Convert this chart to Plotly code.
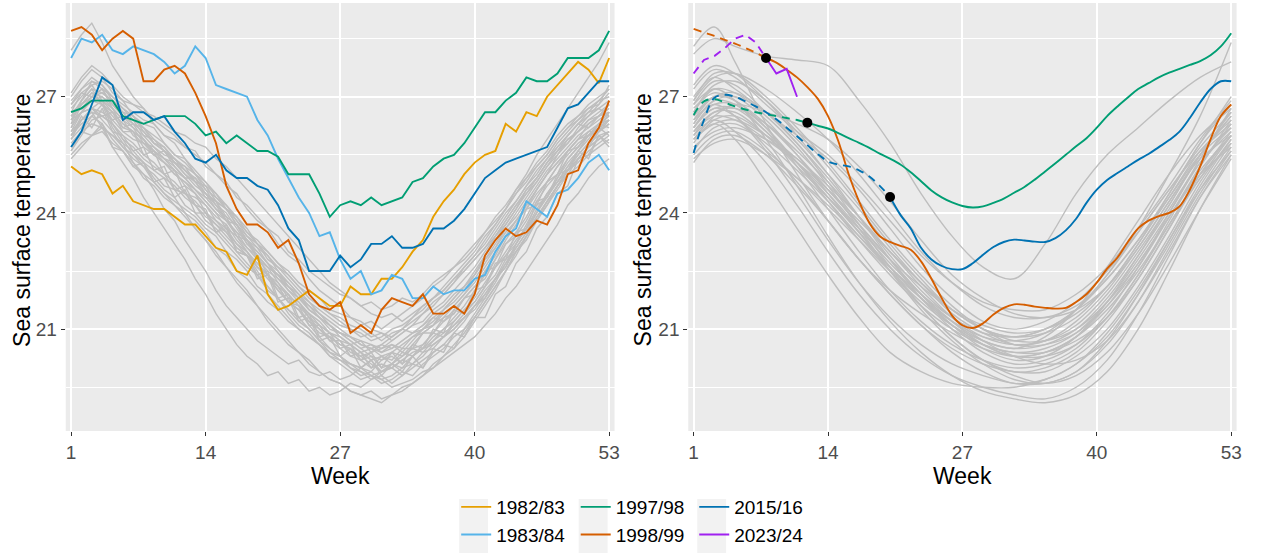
import plotly.graph_objects as go

# ---------------- data ----------------
weeks = list(range(1, 54))
weeks_s = [1, 3, 5, 8, 11, 14, 17, 20, 23, 26, 29, 32, 35, 38, 41, 44, 47, 50, 53]
x_ticks = [1, 14, 27, 40, 53]
y_ticks = [21, 24, 27]
y_minor = [19.5, 22.5, 25.5, 28.5]

# highlighted seasons, weekly values (left panel)
s1982 = [25.2,25.0,25.1,25.0,24.5,24.7,24.3,24.2,24.1,24.1,23.9,23.7,23.7,23.4,23.1,23.0,22.5,22.4,22.9,21.9,
         21.5,21.6,21.8,22.0,21.8,21.6,21.6,22.1,21.9,21.9,22.3,22.3,22.6,23.0,23.3,23.9,24.3,24.6,25.0,25.3,
         25.5,25.6,26.3,26.1,26.6,26.5,27.0,27.3,27.6,27.9,27.7,27.35,28.0]
s1983 = [28.0,28.5,28.4,28.6,28.2,28.1,28.3,28.2,28.1,27.9,27.6,27.8,28.3,28.0,27.3,27.2,27.1,27.0,26.4,26.0,
         25.4,24.9,24.4,24.0,23.4,23.5,22.8,22.3,22.5,21.9,22.0,22.4,22.3,21.8,21.8,22.1,21.9,22.0,22.0,22.3,
         22.4,23.0,23.4,23.6,24.3,24.1,23.9,24.5,24.6,24.9,25.3,25.5,25.1]
s1997 = [26.6,26.7,26.9,26.9,26.9,26.5,26.4,26.3,26.4,26.5,26.5,26.5,26.3,26.0,26.1,25.8,26.0,25.8,25.6,25.6,
         25.45,25.0,25.0,25.0,24.5,23.9,24.2,24.3,24.2,24.4,24.2,24.3,24.4,24.8,24.9,25.2,25.4,25.5,25.8,26.2,
         26.6,26.6,26.9,27.1,27.5,27.4,27.4,27.6,28.0,28.0,28.0,28.2,28.7]
s1998 = [28.7,28.8,28.6,28.2,28.5,28.7,28.5,27.4,27.4,27.7,27.8,27.6,27.1,26.5,25.8,24.7,24.1,23.7,23.7,23.5,
         23.1,23.3,22.7,21.9,21.6,21.5,21.7,20.9,21.1,20.9,21.5,21.8,21.7,21.6,21.9,21.4,21.4,21.6,21.4,21.9,
         22.9,23.3,23.6,23.4,23.5,23.8,23.7,24.2,25.0,25.1,25.8,26.2,26.9]
s2015 = [25.7,26.1,26.8,27.5,27.3,26.4,26.6,26.6,26.4,26.5,26.1,25.8,25.4,25.3,25.5,25.1,24.9,24.9,24.7,24.6,
         24.2,23.6,23.3,22.5,22.5,22.5,22.9,22.6,22.8,23.2,23.2,23.4,23.1,23.1,23.2,23.6,23.6,23.8,24.1,24.5,
         24.9,25.1,25.3,25.4,25.5,25.6,25.7,26.2,26.7,26.8,27.1,27.4,27.4]

# other seasons, weekly values (left panel, grey)
g01 = [26.8,27.2,27.5,27.3,26.9,26.6,26.5,26.1,25.8,25.7,25.3,25.2,24.8,24.4,24.3,23.8,23.5,23.1,22.9,22.4,22.1,21.7,21.5,21.1,20.8,20.5,20.3,20.0,19.9,19.7,19.8,19.6,19.8,20.1,20.0,20.4,20.6,20.5,21.0,21.4,21.8,22.3,22.6,23.2,23.6,24.0,24.5,24.9,25.4,25.7,26.0,26.3,26.5]
g02 = [25.6,26.1,26.0,26.3,25.7,25.6,25.2,25.3,24.8,24.9,24.4,24.6,24.0,24.0,23.5,23.6,23.0,22.9,22.4,22.5,21.8,21.9,21.3,21.4,20.8,20.9,20.5,20.6,20.2,20.4,20.0,20.4,20.1,20.6,20.5,21.0,20.9,21.5,21.4,22.0,22.1,22.7,22.8,23.5,23.6,24.3,24.4,25.0,25.1,25.6,25.4,26.0,25.8]
g03 = [26.2,26.8,27.1,27.0,26.7,26.2,26.3,25.9,25.5,25.6,25.2,24.9,24.9,24.5,24.1,23.9,23.4,23.3,22.8,22.6,22.2,21.8,21.7,21.3,21.0,20.8,20.6,20.5,20.2,20.3,20.0,20.1,20.4,20.3,20.6,20.9,20.8,21.2,21.5,21.7,22.1,22.6,22.9,23.2,23.7,24.2,24.4,24.9,25.3,25.6,26.0,26.1,26.4]
g04 = [26.5,26.7,27.0,27.2,27.0,26.8,26.6,26.4,26.3,26.0,25.9,25.7,25.5,25.3,25.0,24.7,24.5,24.1,23.8,23.6,23.2,22.9,22.7,22.3,22.0,21.8,21.6,21.3,21.2,21.0,20.9,20.8,21.0,20.9,21.1,21.3,21.2,21.5,21.8,22.1,22.3,22.8,23.2,23.5,23.9,24.4,24.8,25.2,25.6,25.9,26.3,26.5,26.8]
g05 = [25.8,26.1,26.5,26.3,25.9,25.6,25.3,24.9,24.7,24.4,24.2,23.9,23.6,23.3,23.0,22.6,22.3,22.0,21.6,21.3,21.0,20.7,20.4,20.2,19.9,19.7,19.6,19.4,19.3,19.4,19.2,19.3,19.5,19.6,19.8,20.0,20.3,20.5,20.8,21.2,21.6,22.0,22.5,22.9,23.4,23.8,24.2,24.7,25.1,25.3,25.6,25.8,26.0]
g06 = [27.0,27.4,27.7,27.5,27.1,26.9,26.5,26.3,26.2,25.8,25.5,25.4,25.0,24.6,24.4,24.2,23.8,23.4,23.1,22.9,22.5,22.1,21.9,21.5,21.3,21.1,20.8,20.6,20.7,20.4,20.5,20.6,20.4,20.7,21.0,21.1,21.4,21.6,21.9,22.3,22.7,23.1,23.5,23.8,24.2,24.6,25.0,25.5,25.8,26.2,26.5,26.8,27.1]
g07 = [26.0,26.5,26.2,26.7,26.1,26.0,25.6,25.7,25.1,25.2,24.6,24.7,24.2,24.1,23.5,23.7,23.0,22.9,22.3,22.4,21.7,21.8,21.2,21.3,20.7,20.8,20.3,20.5,20.0,20.2,19.8,20.1,19.9,20.3,20.0,20.5,20.4,20.9,20.8,21.3,21.3,21.9,22.1,22.7,23.0,23.6,23.9,24.5,24.7,25.4,25.5,26.0,26.1]
g08 = [26.4,26.6,26.9,26.8,26.4,26.5,26.2,25.8,25.7,25.4,25.3,25.0,24.7,24.5,24.2,23.8,23.7,23.2,23.0,22.7,22.3,22.1,21.8,21.5,21.3,21.0,20.9,20.7,20.5,20.6,20.4,20.5,20.7,20.9,21.0,21.3,21.5,21.8,22.1,22.5,22.9,23.4,23.7,24.1,24.6,24.9,25.3,25.6,26.0,26.3,26.2,26.5,26.7]
g09 = [26.1,26.4,26.7,26.9,26.7,26.4,26.2,26.0,25.7,25.5,25.4,25.1,24.8,24.7,24.3,24.1,23.8,23.5,23.3,23.0,22.7,22.5,22.2,22.0,21.8,21.5,21.4,21.3,21.1,21.2,21.0,21.2,21.4,21.6,21.8,22.1,22.3,22.6,22.9,23.2,23.5,23.9,24.2,24.6,24.9,25.3,25.6,26.0,26.3,26.5,26.8,27.0,27.2]
g10 = [26.6,27.1,27.3,26.9,26.3,25.9,25.5,25.3,24.9,24.6,24.4,24.0,23.8,23.5,23.1,22.9,22.5,22.3,22.0,21.7,21.5,21.2,21.0,20.8,20.6,20.3,20.2,20.0,19.8,19.9,19.7,19.8,20.0,20.1,20.3,20.6,20.8,21.1,21.4,21.7,22.1,22.4,22.9,23.3,23.6,24.0,24.5,24.8,25.1,25.4,25.7,25.9,26.1]
g11 = [25.9,26.2,26.7,26.6,26.4,26.1,25.9,25.8,25.5,25.3,25.0,24.8,24.6,24.3,24.0,23.6,23.4,23.0,22.7,22.4,22.2,21.9,21.6,21.3,21.1,20.9,20.7,20.4,20.3,20.1,19.9,20.0,19.8,20.0,20.2,20.4,20.6,20.9,21.2,21.6,22.0,22.3,22.7,23.2,23.6,24.1,24.5,24.8,25.2,25.5,25.8,26.0,25.7]
g12 = [26.3,26.9,27.4,27.2,26.8,26.5,26.4,26.0,25.9,25.6,25.3,25.1,24.9,24.6,24.2,24.0,23.6,23.2,22.9,22.6,22.4,22.0,21.7,21.4,21.2,20.9,20.7,20.6,20.4,20.2,20.3,20.1,20.3,20.5,20.4,20.7,20.9,21.1,21.3,21.6,21.8,22.2,22.7,23.0,23.4,23.9,24.3,24.7,25.1,25.5,25.8,26.1,26.3]
g13 = [26.7,27.0,27.3,27.4,27.2,26.9,26.8,26.7,26.4,26.2,26.0,25.7,25.6,25.2,25.0,24.8,24.4,24.2,23.9,23.6,23.4,23.0,22.8,22.5,22.3,22.1,21.9,21.8,21.6,21.7,21.5,21.6,21.8,21.7,21.9,22.2,22.4,22.6,22.8,23.1,23.5,23.8,24.1,24.5,24.9,25.2,25.5,25.9,26.2,26.5,26.7,26.9,27.0]
g14 = [25.5,25.8,26.0,26.1,25.8,25.6,25.2,25.0,24.8,24.5,24.3,24.1,23.9,23.6,23.4,23.0,22.8,22.5,22.1,21.9,21.6,21.3,21.0,20.8,20.6,20.3,20.1,19.9,19.7,19.8,19.6,19.7,19.9,19.8,20.1,20.3,20.5,20.8,21.0,21.3,21.7,22.1,22.5,23.0,23.3,23.8,24.2,24.6,25.0,25.2,25.5,25.7,25.9]
g15 = [26.8,27.1,27.0,27.2,26.7,26.4,26.0,25.8,25.6,25.3,25.1,24.7,24.5,24.0,23.7,23.5,23.1,22.9,22.5,22.1,21.8,21.5,21.3,21.0,20.7,20.4,20.2,20.1,19.9,19.8,19.9,20.0,20.2,20.1,20.4,20.5,20.8,21.0,21.3,21.5,21.9,22.3,22.8,23.1,23.5,24.0,24.4,24.8,25.2,25.6,25.9,26.3,26.6]
g16 = [26.1,26.6,26.7,26.5,26.6,26.1,26.1,25.5,25.6,25.0,25.1,24.5,24.4,24.2,23.8,23.6,23.2,23.0,22.6,22.4,22.1,21.7,21.6,21.1,21.1,20.7,20.7,20.3,20.4,20.0,20.3,20.2,20.5,20.5,20.9,20.9,21.3,21.4,21.8,21.9,22.5,22.6,23.2,23.4,24.1,24.2,24.8,25.0,25.6,25.7,26.1,26.1,26.6]
g17 = [28.2,28.6,28.9,28.4,27.8,27.4,27.0,26.7,26.3,26.0,25.8,25.4,25.1,24.8,24.4,24.1,23.7,23.3,23.0,22.7,22.4,22.2,21.9,21.6,21.4,21.1,20.9,20.8,20.6,20.5,20.4,20.6,20.5,20.8,21.0,21.2,21.5,21.7,22.0,22.4,22.8,23.1,23.6,23.9,24.3,24.7,25.1,25.4,25.7,26.0,26.2,26.4,26.6]
g18 = [26.4,26.8,27.0,26.9,26.6,26.3,26.1,25.9,25.6,25.4,25.1,24.9,24.6,24.3,24.0,23.8,23.4,23.1,22.8,22.5,22.3,22.0,21.8,21.5,21.3,21.1,20.9,20.8,20.7,20.6,20.5,20.7,20.9,21.1,21.4,21.6,21.9,22.2,22.6,22.9,23.3,23.7,24.1,24.6,25.0,25.5,25.9,26.3,26.7,27.1,27.5,27.9,28.4]
g19 = [25.7,26.1,26.3,26.2,26.0,25.7,25.5,25.2,25.0,24.7,24.6,24.2,24.0,23.7,23.5,23.2,22.9,22.6,22.4,22.1,21.8,21.5,21.2,21.0,20.7,20.5,20.3,20.1,20.0,19.8,19.7,19.5,19.6,19.7,19.9,20.0,20.2,20.4,20.6,20.8,21.1,21.4,21.8,22.1,22.5,22.9,23.3,23.7,24.2,24.5,24.9,25.2,25.4]
g20 = [26.5,26.9,27.2,27.1,26.9,26.6,26.3,26.2,25.8,25.6,25.4,25.1,24.8,24.7,24.3,24.1,23.7,23.4,23.2,22.8,22.6,22.3,22.0,21.7,21.5,21.3,21.1,21.0,20.8,20.9,20.7,20.9,21.0,21.2,21.4,21.7,21.9,22.2,22.5,22.8,23.1,23.5,23.9,24.3,24.7,25.0,25.4,25.7,26.0,26.3,26.5,26.7,26.9]
g21 = [25.9,26.4,26.6,26.5,26.3,25.9,25.7,25.4,25.2,25.0,24.6,24.5,24.2,23.8,23.6,23.3,23.0,22.7,22.4,22.0,21.8,21.4,21.1,20.9,20.6,20.4,20.3,20.1,20.0,20.2,19.9,20.1,20.3,20.5,20.6,20.9,21.2,21.4,21.8,22.1,22.5,22.9,23.4,23.8,24.1,24.6,25.0,25.3,25.6,25.9,26.1,26.3,26.2]
g22 = [26.2,26.6,27.0,27.1,26.9,26.7,26.5,26.2,26.0,25.8,25.5,25.3,25.0,24.8,24.5,24.2,23.9,23.6,23.2,23.0,22.7,22.4,22.1,21.8,21.6,21.4,21.2,21.0,20.9,20.7,20.8,21.0,21.1,21.3,21.6,21.8,22.0,22.3,22.6,22.9,23.2,23.6,24.0,24.3,24.7,25.1,25.4,25.8,26.1,26.4,26.7,26.8,27.3]
g23 = [26.6,26.8,27.1,26.8,26.5,26.2,26.1,25.7,25.5,25.3,25.0,24.8,24.5,24.2,23.9,23.7,23.3,23.0,22.6,22.4,22.0,21.7,21.5,21.2,21.0,20.7,20.5,20.3,20.2,20.0,20.1,20.0,20.2,20.4,20.5,20.7,21.0,21.2,21.5,21.8,22.2,22.6,23.0,23.4,23.8,24.3,24.7,25.0,25.4,25.7,26.0,26.2,26.0]
g24 = [25.4,25.7,26.0,26.2,26.0,25.8,25.6,25.3,25.1,24.9,24.7,24.4,24.2,23.9,23.7,23.4,23.1,22.9,22.6,22.3,22.0,21.7,21.5,21.2,20.9,20.8,20.6,20.5,20.3,20.4,20.6,20.8,21.0,21.3,21.5,21.8,22.1,22.4,22.7,23.0,23.4,23.7,24.1,24.5,24.8,25.2,25.5,25.9,26.2,26.4,26.6,26.7,26.5]
g25 = [26.0,26.3,26.5,26.8,26.6,26.3,26.1,25.9,25.6,25.4,25.2,24.9,24.6,24.4,24.1,23.8,23.5,23.3,22.9,22.6,22.4,22.1,21.8,21.6,21.3,21.1,20.9,20.7,20.5,20.3,20.2,20.3,20.1,20.3,20.5,20.6,20.8,21.0,21.3,21.6,21.9,22.3,22.6,23.1,23.5,23.9,24.3,24.7,25.1,25.4,25.7,26.1,26.3]
g26 = [27.1,27.5,27.8,27.6,27.3,27.0,26.8,26.6,26.5,26.3,26.1,26.0,25.8,25.7,25.4,25.2,24.9,24.6,24.3,24.0,23.7,23.4,23.1,22.8,22.5,22.2,22.0,21.8,21.6,21.4,21.3,21.4,21.2,21.4,21.6,21.8,22.0,22.3,22.5,22.8,23.1,23.4,23.8,24.2,24.6,24.9,25.3,25.6,25.9,26.1,26.4,26.5,26.6]
g27 = [26.3,26.6,26.7,26.4,26.1,25.7,25.4,25.2,24.8,24.5,24.2,24.0,23.6,23.3,22.9,22.6,22.2,21.9,21.6,21.2,20.9,20.6,20.4,20.1,19.9,19.7,19.6,19.4,19.3,19.2,19.1,19.3,19.4,19.6,19.8,20.1,20.3,20.6,20.9,21.3,21.7,22.1,22.5,23.0,23.4,23.8,24.3,24.7,25.0,25.4,25.7,25.9,26.1]
g28 = [26.9,27.2,27.4,27.3,27.0,26.7,26.4,26.2,25.9,25.7,25.4,25.2,25.0,24.7,24.5,24.1,23.9,23.5,23.2,22.9,22.6,22.4,22.1,21.9,21.6,21.4,21.3,21.1,21.0,20.8,20.9,20.7,20.9,21.1,21.2,21.5,21.7,22.0,22.3,22.6,23.0,23.4,23.8,24.2,24.5,24.9,25.3,25.7,26.0,26.3,26.6,26.9,27.2]
g29 = [25.6,26.0,26.4,26.5,26.3,26.0,25.8,25.5,25.3,25.0,24.8,24.5,24.3,24.0,23.8,23.5,23.2,22.9,22.7,22.4,22.1,21.9,21.6,21.4,21.1,20.9,20.8,20.6,20.4,20.5,20.3,20.4,20.6,20.8,20.9,21.1,21.3,21.6,21.9,22.2,22.6,23.0,23.4,23.8,24.1,24.5,24.8,25.2,25.5,25.8,26.0,26.3,26.4]
g30 = [26.5,26.7,26.9,27.0,26.8,26.5,26.3,26.1,25.8,25.6,25.3,25.0,24.8,24.5,24.3,23.9,23.7,23.3,23.1,22.7,22.5,22.2,21.9,21.7,21.4,21.2,21.0,20.8,20.6,20.5,20.6,20.5,20.7,20.9,21.1,21.4,21.6,21.9,22.1,22.4,22.8,23.2,23.6,24.0,24.4,24.8,25.2,25.5,25.9,26.1,26.4,26.6,26.8]
g31 = [26.0,26.4,26.6,26.2,25.7,25.3,24.9,24.4,24.0,23.6,23.2,22.8,22.3,21.9,21.4,21.0,20.6,20.3,20.1,19.8,19.9,19.6,19.7,19.4,19.5,19.3,19.4,19.6,19.5,19.7,19.9,20.1,20.0,20.3,20.5,20.8,21.0,21.3,21.6,22.0,22.4,22.8,23.3,23.7,24.2,24.6,25.0,25.3,25.6,25.9,26.0,26.2,26.4]
g32 = [26.4,26.9,27.2,26.8,26.2,25.8,25.3,25.0,24.6,24.1,23.8,23.3,22.9,22.5,22.0,21.6,21.3,21.0,20.7,20.5,20.3,20.1,20.2,19.9,19.8,19.9,19.7,19.8,20.0,19.9,20.2,20.4,20.3,20.6,20.9,21.1,21.5,21.8,22.1,22.4,22.9,23.3,23.7,24.1,24.5,24.8,25.2,25.6,25.8,26.1,26.3,26.5,26.8]
grey_raw = [g01, g02, g03, g04, g05, g06, g07, g08, g09, g10, g11, g12, g13, g14, g15, g16,
            g17, g18, g19, g20, g21, g22, g23, g24, g25, g26, g27, g28, g29, g30, g31, g32]

# smoothed seasons (right panel, grey), values at weeks_s
r01 = [28.1,28.5,28.3,28.05,27.95,27.8,26.9,25.8,24.5,23.4,22.6,22.3,23.2,24.5,25.5,26.2,26.9,27.5,27.9]
r02 = [28.3,28.8,27.9,26.3,25.0,23.8,22.8,22.0,21.4,20.9,20.5,20.3,20.4,20.8,21.5,22.5,23.7,24.9,26.0]
c01 = [26.3,26.9,26.8,26.1,25.3,24.4,23.5,22.6,21.8,21.1,20.6,20.4,20.5,20.9,21.7,22.8,24.0,25.3,26.2]
c02 = [25.6,26.2,26.3,25.8,25.1,24.3,23.4,22.5,21.6,20.8,20.2,19.9,20.0,20.4,21.2,22.3,23.6,24.9,25.8]
c03 = [26.8,27.4,27.3,26.6,25.8,24.9,23.9,22.9,22.0,21.3,20.8,20.6,20.7,21.1,21.9,23.0,24.2,25.5,26.5]
c04 = [27.2,27.7,27.5,26.8,26.1,25.5,24.7,23.8,22.9,22.2,21.7,21.5,21.5,21.9,22.6,23.6,24.7,25.9,26.9]
c05 = [25.3,25.9,26.0,25.5,24.7,23.8,22.8,21.9,21.1,20.4,19.9,19.6,19.7,20.1,20.9,22.0,23.3,24.6,25.6]
c06 = [26.0,26.6,26.7,26.3,25.6,24.8,23.9,23.0,22.2,21.5,21.0,20.8,20.9,21.3,22.1,23.2,24.4,25.6,26.4]
c07 = [26.5,27.0,26.9,26.2,25.2,24.1,23.0,22.0,21.2,20.6,20.2,20.0,20.1,20.5,21.3,22.4,23.7,25.0,26.0]
c08 = [26.2,26.7,26.5,25.7,24.8,23.8,22.8,21.9,21.1,20.5,20.1,19.9,19.9,20.3,21.0,22.1,23.4,24.8,25.9]
c09 = [27.0,27.5,27.2,26.6,26.0,25.4,24.6,23.6,22.6,21.8,21.2,21.0,21.2,21.7,22.5,23.5,24.6,25.7,26.6]
c10 = [25.8,26.4,26.5,26.0,25.3,24.5,23.6,22.7,21.9,21.2,20.7,20.5,20.6,21.0,21.8,22.9,24.1,25.3,26.1]
c11 = [26.6,27.2,27.1,26.5,25.7,24.7,23.6,22.5,21.5,20.7,20.1,19.7,19.6,19.9,20.6,21.7,23.1,24.5,25.7]
c12 = [26.1,26.5,26.4,25.9,25.3,24.6,23.8,23.0,22.2,21.5,21.0,20.7,20.7,21.0,21.7,22.7,23.9,25.1,26.0]
c13 = [25.5,26.0,26.1,25.6,24.9,24.1,23.3,22.5,21.8,21.2,20.8,20.7,20.9,21.5,22.4,23.5,24.6,25.6,26.3]
c14 = [26.9,27.6,27.6,27.0,26.2,25.3,24.3,23.3,22.4,21.6,21.0,20.6,20.6,20.9,21.6,22.6,23.9,25.2,26.4]
c15 = [26.4,26.8,26.5,25.6,24.5,23.3,22.2,21.3,20.6,20.1,19.8,19.6,19.6,19.9,20.7,21.9,23.3,24.7,25.9]
c16 = [25.9,26.5,26.8,26.6,26.3,25.9,25.2,24.3,23.3,22.4,21.8,21.4,21.3,21.5,22.1,23.1,24.3,25.5,26.5]
c17 = [26.7,27.1,26.9,26.3,25.5,24.6,23.7,22.8,21.9,21.1,20.5,20.2,20.3,20.8,21.7,22.9,24.2,25.5,26.6]
c18 = [26.3,26.9,27.0,26.6,25.8,24.8,23.7,22.6,21.6,20.8,20.2,19.8,19.6,19.8,20.4,21.4,22.7,24.1,25.4]
c19 = [25.4,25.8,25.9,25.5,24.9,24.2,23.4,22.6,21.8,21.1,20.6,20.3,20.4,20.8,21.6,22.7,23.9,25.0,25.7]
c20 = [26.6,27.3,27.4,26.9,26.1,25.2,24.2,23.2,22.3,21.5,21.0,20.8,21.0,21.5,22.3,23.3,24.4,25.5,26.2]
c21 = [26.0,26.4,26.1,25.3,24.2,23.0,21.9,21.0,20.3,19.8,19.5,19.3,19.2,19.5,20.2,21.4,22.9,24.4,25.6]
c22 = [27.3,27.8,27.6,26.9,26.0,25.0,23.9,22.8,21.8,21.0,20.4,20.1,20.2,20.6,21.4,22.6,24.0,25.4,26.7]
c23 = [26.2,26.8,26.8,26.2,25.3,24.3,23.3,22.4,21.6,21.0,20.6,20.4,20.4,20.7,21.3,22.3,23.6,25.0,26.1]
c24 = [25.7,26.1,26.2,25.9,25.4,24.7,23.9,23.0,22.1,21.3,20.7,20.3,20.1,20.2,20.7,21.7,23.0,24.4,25.5]
c25 = [26.5,27.0,27.0,26.4,25.5,24.5,23.5,22.5,21.7,21.1,20.7,20.5,20.8,21.5,22.6,23.8,25.0,26.0,26.7]
c26 = [26.8,27.2,26.9,25.9,24.7,23.4,22.2,21.2,20.4,19.8,19.4,19.2,19.1,19.3,19.9,21.0,22.5,24.1,25.5]
c27 = [26.1,26.6,26.6,26.0,25.2,24.4,23.6,22.8,22.1,21.5,21.1,20.9,21.0,21.4,22.1,23.2,24.5,25.8,27.0]
c28 = [25.9,26.3,26.4,26.0,25.4,24.6,23.7,22.8,21.9,21.2,20.6,20.3,20.3,20.6,21.3,22.4,23.8,25.2,26.3]
c29 = [26.4,27.0,27.1,26.6,25.9,25.0,24.1,23.1,22.2,21.4,20.9,20.6,20.7,21.2,22.0,23.1,24.3,25.4,26.0]
c30 = [26.2,26.7,26.7,26.1,25.3,24.4,23.5,22.6,21.9,21.3,20.9,20.8,21.0,21.5,22.4,23.6,25.0,26.5,28.4]
c31 = [25.9,26.3,25.9,24.8,23.6,22.4,21.3,20.4,19.9,19.6,19.5,19.5,19.7,20.1,20.8,21.9,23.2,24.6,25.8]
c32 = [26.9,27.5,27.6,27.2,26.6,25.9,25.0,24.0,23.0,22.2,21.6,21.3,21.3,21.6,22.3,23.3,24.5,25.8,26.8]
grey_smooth = [r01, r02, c01, c02, c03, c04, c05, c06, c07, c08, c09, c10, c11, c12, c13, c14, c15, c16,
               c17, c18, c19, c20, c21, c22, c23, c24, c25, c26, c27, c28, c29, c30, c31, c32]

# smoothed highlighted seasons (right panel): dashed part then solid part
o_dash_w = list(range(1, 9))
o_dash = [28.75,28.66,28.57,28.47,28.37,28.26,28.14,28.0]
o_solid_w = list(range(8, 54))
o_solid = [28.0,27.88,27.7,27.5,27.25,26.95,26.5,25.85,25.0,24.3,23.74,23.4,23.25,23.15,23.05,22.75,22.3,21.8,21.35,21.1,
           21.03,21.15,21.38,21.55,21.64,21.63,21.58,21.55,21.53,21.55,21.7,21.9,22.2,22.56,22.85,23.25,23.6,23.8,23.92,24.0,
           24.17,24.6,25.2,25.9,26.5,26.8]
gr_dash_w = list(range(1, 13))
gr_dash = [26.53,26.88,26.94,26.85,26.75,26.67,26.6,26.55,26.5,26.45,26.4,26.33]
gr_solid_w = list(range(12, 54))
gr_solid = [26.33,26.25,26.18,26.06,25.93,25.81,25.68,25.53,25.4,25.25,25.05,24.82,24.58,24.4,24.27,24.18,24.14,24.17,24.26,24.37,
            24.52,24.67,24.86,25.07,25.28,25.5,25.72,25.93,26.2,26.5,26.75,26.98,27.2,27.35,27.5,27.62,27.72,27.82,27.92,28.07,
            28.3,28.64]
b_dash_w = list(range(1, 21))
b_dash = [25.55,26.4,26.97,27.05,27.0,26.88,26.75,26.6,26.42,26.2,25.98,25.75,25.52,25.33,25.25,25.2,25.1,24.94,24.7,24.41]
b_solid_w = list(range(20, 54))
b_solid = [24.41,23.95,23.6,23.1,22.8,22.63,22.55,22.55,22.7,22.92,23.12,23.25,23.31,23.29,23.26,23.25,23.35,23.55,23.85,24.26,
           24.6,24.85,25.03,25.2,25.37,25.52,25.7,25.88,26.1,26.45,26.85,27.2,27.4,27.4]
p_dash_w = list(range(1, 9))
p_dash = [27.6,27.95,28.05,28.25,28.5,28.6,28.4,28.0]
p_solid_w = [8, 9, 10, 11]
p_solid = [28.0,27.6,27.72,27.0]
dot_w = [8, 12, 20]
dot_v = [28.0, 26.33, 24.41]

labels = ["1982/83", "1983/84", "1997/98", "1998/99", "2015/16", "2023/24"]
colors = ["#E69F00", "#56B4E9", "#009E73", "#D55E00", "#0072B2", "#A020F0"]

# ---------------- figure ----------------
GREY = "#BEBEBE"
LW_G = 1.4
LW_C = 1.9
DASH = "8px,6px"
fig = go.Figure()

# left panel
for s in grey_raw:
    fig.add_trace(go.Scatter(x=weeks, y=s, mode="lines", line=dict(color=GREY, width=LW_G),
                             showlegend=False, hoverinfo="skip", xaxis="x", yaxis="y"))
left_series = [s1982, s1983, s1997, s1998, s2015]
left_legend = ["legend", "legend", "legend2", "legend2", "legend3"]
for s, lab, col, lg in zip(left_series, labels[:5], colors[:5], left_legend):
    fig.add_trace(go.Scatter(x=weeks, y=s, mode="lines", name=lab, line=dict(color=col, width=LW_C),
                             legend=lg, xaxis="x", yaxis="y"))

# right panel
for s in grey_smooth:
    fig.add_trace(go.Scatter(x=weeks_s, y=s, mode="lines", line=dict(color=GREY, width=LW_G, shape="spline"),
                             showlegend=False, hoverinfo="skip", xaxis="x2", yaxis="y2"))

def seg(xw, yv, col, dash, shape="spline"):
    fig.add_trace(go.Scatter(x=xw, y=yv, mode="lines", line=dict(color=col, width=LW_C, dash=dash, shape=shape),
                             showlegend=False, xaxis="x2", yaxis="y2"))

seg(o_dash_w, o_dash, colors[3], DASH)
seg(o_solid_w, o_solid, colors[3], "solid")
seg(gr_dash_w, gr_dash, colors[2], DASH)
seg(gr_solid_w, gr_solid, colors[2], "solid")
seg(b_dash_w, b_dash, colors[4], DASH)
seg(b_solid_w, b_solid, colors[4], "solid")
seg(p_dash_w, p_dash, colors[5], DASH, shape="linear")
fig.add_trace(go.Scatter(x=p_solid_w, y=p_solid, mode="lines", name=labels[5],
                         line=dict(color=colors[5], width=LW_C), legend="legend3", xaxis="x2", yaxis="y2"))
fig.add_trace(go.Scatter(x=dot_w, y=dot_v, mode="markers", marker=dict(color="black", size=10),
                         showlegend=False, xaxis="x2", yaxis="y2"))

W, H = 1261, 554
FONT = "Liberation Sans, Arial, sans-serif"
TICK_FS = 19
TITLE_FS = 23
ydom = [1 - 431 / H, 1 - 3 / H]

def xax(dom, anchor):
    return dict(domain=dom, anchor=anchor, range=[0.48, 53.52], tickvals=x_ticks, ticks="outside", ticklen=4,
                tickwidth=1, tickcolor="#333333", tickfont=dict(size=TICK_FS, color="#4D4D4D", family=FONT),
                showgrid=True, gridcolor="white", gridwidth=1.8, zeroline=False, showline=False)

def yax(anchor):
    return dict(domain=ydom, anchor=anchor, range=[18.37, 29.42], tickvals=y_ticks, ticks="outside", ticklen=4,
                tickwidth=1, tickcolor="#333333", tickfont=dict(size=TICK_FS, color="#4D4D4D", family=FONT),
                showgrid=True, gridcolor="white", gridwidth=1.8, zeroline=False, showline=False,
                minor=dict(tickvals=y_minor, showgrid=True, gridcolor="white", gridwidth=0.9, ticks=""))

def legend_at(xpx):
    return dict(x=xpx / W, xanchor="left", y=0, yanchor="bottom", orientation="v",
                bgcolor="rgba(0,0,0,0)", font=dict(size=19, color="black", family=FONT),
                tracegroupgap=0, itemwidth=30)

shapes = []
for x0 in [461, 581, 700]:
    shapes.append(dict(type="rect", xref="paper", yref="paper", x0=x0 / W, x1=(x0 + 29) / W,
                       y0=1 - 553 / H, y1=1 - 499 / H, fillcolor="#F2F2F2", line=dict(width=0), layer="below"))

annos = [
    dict(text="Week", x=341.5 / W, y=1 - 476 / H, xref="paper", yref="paper", showarrow=False,
         font=dict(size=TITLE_FS, color="black", family=FONT), xanchor="center", yanchor="middle"),
    dict(text="Week", x=966 / W, y=1 - 476 / H, xref="paper", yref="paper", showarrow=False,
         font=dict(size=TITLE_FS, color="black", family=FONT), xanchor="center", yanchor="middle"),
    dict(text="Sea surface temperature", x=22 / W, y=1 - 220 / H, xref="paper", yref="paper", showarrow=False,
         textangle=-90, font=dict(size=TITLE_FS, color="black", family=FONT), xanchor="center", yanchor="middle"),
    dict(text="Sea surface temperature", x=646 / W, y=1 - 220 / H, xref="paper", yref="paper", showarrow=False,
         textangle=-90, font=dict(size=TITLE_FS, color="black", family=FONT), xanchor="center", yanchor="middle"),
]

fig.update_layout(
    width=W, height=H, margin=dict(l=0, r=0, t=0, b=0),
    paper_bgcolor="white", plot_bgcolor="#EBEBEB",
    font=dict(family=FONT),
    xaxis=xax([66 / W, 617 / W], "y"),
    yaxis=yax("x"),
    xaxis2=xax([691 / W, 1241.5 / W], "y2"),
    yaxis2=yax("x2"),
    legend=legend_at(458),
    legend2=legend_at(578),
    legend3=legend_at(697),
    shapes=shapes,
    annotations=annos,
    hovermode=False,
)

fig.write_html("out.html")
